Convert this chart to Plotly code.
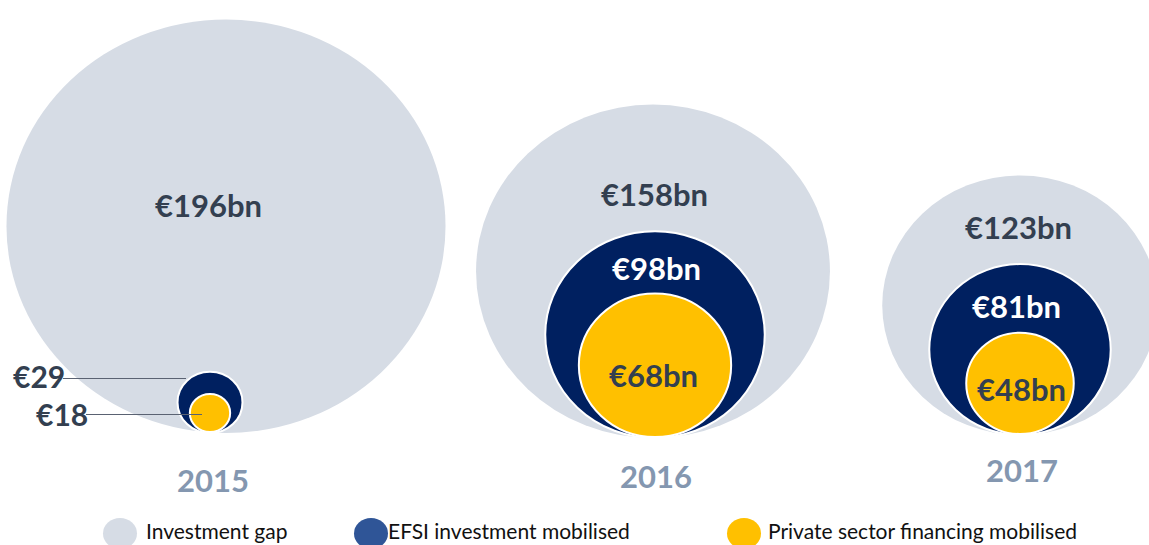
import plotly.graph_objects as go

# ---- data ----
years = ["2015", "2016", "2017"]
investment_gap = [196, 158, 123]
efsi_mobilised = [29, 98, 81]
private_mobilised = [18, 68, 48]
series_names = ["Investment gap", "EFSI investment mobilised", "Private sector financing mobilised"]

# ---- style / layout ----
W, H = 1149, 545
KX, KY = 2.24, 2.11          # px per value unit (x and y)
GAP_COL = "#D6DCE5"
EFSI_COL = "#002060"
PRIV_COL = "#FFC000"
LEG_EFSI_COL = "#2F5597"
TXT_COL = "#333F50"
YEAR_COL = "#8497B0"
FONT = "Lato"

# group centres (px) for gap and inner circles, and baseline (px from top)
gap_cx_px = [226, 653, 1020]
inner_cx_px = [210, 655, 1020]
base_px = [433, 438, 435]


def dx(px):
    return px / KX


def dy(py):
    return py / KY


fig = go.Figure()
shapes = []


def circle(cx_px, base, v, color, outline):
    cx = dx(cx_px)
    b = dy(base)
    shapes.append(dict(
        type="circle", xref="x", yref="y",
        x0=cx - v / 2, x1=cx + v / 2, y0=b - v, y1=b,
        fillcolor=color,
        line=dict(color="white", width=2 if outline else 0),
        layer="above",
    ))


for i in range(3):
    circle(gap_cx_px[i], base_px[i], investment_gap[i], GAP_COL, False)
    circle(inner_cx_px[i], base_px[i], efsi_mobilised[i], EFSI_COL, True)
    circle(inner_cx_px[i], base_px[i] - 1, private_mobilised[i], PRIV_COL, True)

annotations = []


def label(x_px, y_px, text, color, size, xanchor="center"):
    annotations.append(dict(
        x=dx(x_px), y=dy(y_px), xref="x", yref="y", text=text, showarrow=False,
        font=dict(family=FONT, size=size, color=color, weight="bold"),
        xanchor=xanchor, yanchor="middle",
    ))


# gap labels
gap_lab_pos = [(208, 205), (654, 194), (1018, 227)]
efsi_lab_pos = [None, (656, 268), (1016, 306)]
priv_lab_pos = [None, (653, 375), (1021, 389)]
for i in range(3):
    label(*gap_lab_pos[i], f"€{investment_gap[i]}bn", TXT_COL, 31)
    if efsi_lab_pos[i]:
        label(*efsi_lab_pos[i], f"€{efsi_mobilised[i]}bn", "white", 31)
    if priv_lab_pos[i]:
        label(*priv_lab_pos[i], f"€{private_mobilised[i]}bn", TXT_COL, 31)

# small 2015 labels with leader lines
label(67, 376, f"€{efsi_mobilised[0]}", TXT_COL, 30, xanchor="right")
label(90, 414, f"€{private_mobilised[0]}", TXT_COL, 30, xanchor="right")
shapes.append(dict(type="line", xref="x", yref="y", x0=dx(63), x1=dx(186), y0=dy(378.5), y1=dy(378.5),
                   line=dict(color="#5A6272", width=1.2), layer="above"))
shapes.append(dict(type="line", xref="x", yref="y", x0=dx(86), x1=dx(202), y0=dy(414.5), y1=dy(414.5),
                   line=dict(color="#5A6272", width=1.2), layer="above"))

# year labels
year_pos = [(213, 480), (656, 476), (1022, 470)]
for i in range(3):
    label(*year_pos[i], years[i], YEAR_COL, 31)

# legend (manual)
leg_cols = [GAP_COL, LEG_EFSI_COL, PRIV_COL]
leg_cx = [120, 371, 744]
leg_tx = [145, 387, 767]
for i in range(3):
    shapes.append(dict(type="circle", xref="paper", yref="paper",
                       x0=(leg_cx[i] - 17) / W, x1=(leg_cx[i] + 17) / W,
                       y0=1 - (549) / H, y1=1 - (518) / H,
                       fillcolor=leg_cols[i], line=dict(width=0)))
    annotations.append(dict(x=leg_tx[i] / W, y=0, xref="paper", yref="paper",
                            text=series_names[i], showarrow=False,
                            font=dict(family=FONT, size=21, color="#111111"),
                            xanchor="left", yanchor="bottom", yshift=1,
                            borderpad=0))

fig.update_layout(
    width=W, height=H,
    margin=dict(l=0, r=0, t=0, b=0),
    paper_bgcolor="white", plot_bgcolor="white",
    xaxis=dict(range=[0, W / KX], visible=False, fixedrange=True),
    yaxis=dict(range=[H / KY, 0], visible=False, fixedrange=True),
    shapes=shapes, annotations=annotations, showlegend=False,
)

fig.write_html(
    "out.html",
    config={"displayModeBar": False},
    post_script="document.body.style.margin='0';document.body.style.overflow='hidden';",
)
